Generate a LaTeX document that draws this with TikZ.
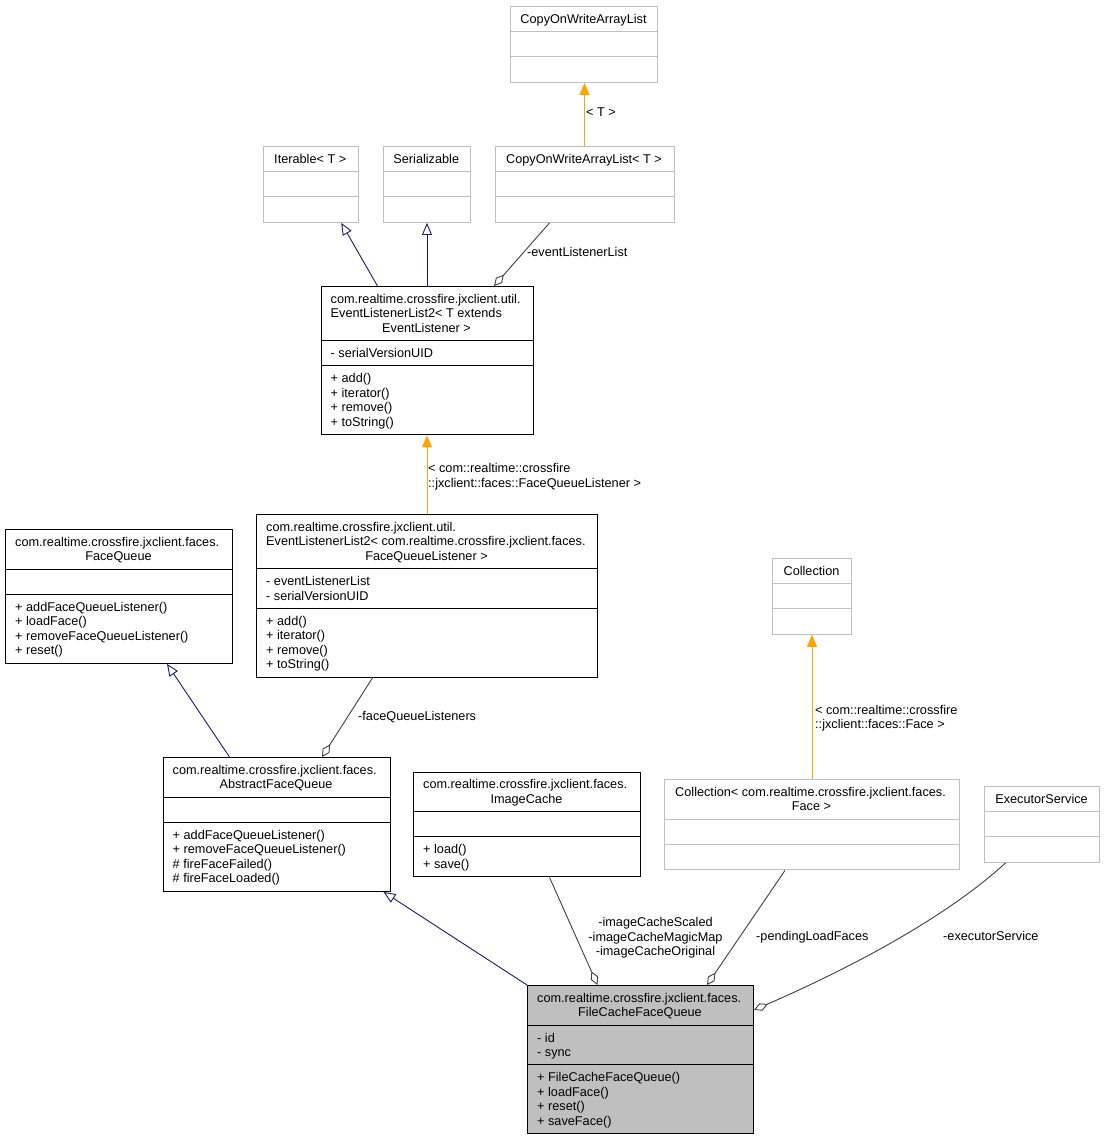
\documentclass[tikz,border=0pt]{standalone}
\usepackage{fontspec}
\setmainfont{Liberation Sans}
\usetikzlibrary{arrows.meta}
\definecolor{edgegray}{HTML}{404040}
\definecolor{boxgray}{HTML}{BFBFBF}
\definecolor{navyline}{HTML}{191970}
\definecolor{tmplorange}{HTML}{FFA500}

\tikzset{
	cls/.style={draw=black, fill=white, anchor=north west, line width=1pt},
	extcls/.style={draw=boxgray, fill=white, anchor=north west, line width=1pt},
	focuscls/.style={draw=black, fill=boxgray, anchor=north west, line width=1pt},
	ttl/.style={anchor=north, align=center},
	mbr/.style={anchor=north west, align=left},
	elbl/.style={anchor=base west},
	inherit/.style={draw=navyline, line width=0.9pt, -{Triangle[open, length=12pt, width=10pt, fill=white]}},
	tmpl/.style={draw=tmplorange, line width=0.9pt, -{Triangle[length=12pt, width=10pt]}},
	assoc/.style={draw=edgegray, line width=0.9pt, -{Diamond[open, length=15pt, width=8pt, fill=white]}}
}

\begin{document}
\begin{tikzpicture}[x=1pt, y=-1pt, every node/.style={font=\fontsize{12.7}{14.5}\selectfont, inner sep=0pt}]
	\path[fill=white, use as bounding box] (0,0) rectangle (1104,1140);

	% templates and interfaces
	\node[extcls, minimum width=147pt, minimum height=75.9pt] (cow) at (510,6) {};
	\draw[boxgray] (510,31.3) -- (657,31.3) (510,56.6) -- (657,56.6);
	\node[ttl] (cowT) at (583.5,13.8) {CopyOnWriteArrayList};

	\node[extcls, minimum width=94.5pt, minimum height=75.9pt] (iter) at (263,146) {};
	\draw[boxgray] (263,171.3) -- (357.5,171.3) (263,196.6) -- (357.5,196.6);
	\node[ttl] (iterT) at (310.25,153.8) {Iterable< T >};

	\node[extcls, minimum width=87.5pt, minimum height=75.9pt] (ser) at (382.5,146) {};
	\draw[boxgray] (382.5,171.3) -- (470,171.3) (382.5,196.6) -- (470,196.6);
	\node[ttl] (serT) at (426.25,153.8) {Serializable};

	\node[extcls, minimum width=179pt, minimum height=75.9pt] (cowt) at (494.5,146) {};
	\draw[boxgray] (494.5,171.3) -- (673.5,171.3) (494.5,196.6) -- (673.5,196.6);
	\node[ttl] (cowtT) at (584,153.8) {CopyOnWriteArrayList< T >};

	% event listener lists
	\node[cls, minimum width=212pt, minimum height=148.4pt] (ell) at (320.5,286) {};
	\draw (320.5,340.3) -- (532.5,340.3) (320.5,365.6) -- (532.5,365.6);
	\node[mbr] (ellT) at (330.5,293.8) {com.realtime.crossfire.jxclient.util.\\EventListenerList2< T extends};
	\node[ttl] (ellTb) at (426.5,322.8) {EventListener >};
	\node[mbr] (ellA) at (330.5,348.1) {- serialVersionUID};
	\node[mbr] (ellM) at (330.5,373.4) {+ add()\\+ iterator()\\+ remove()\\+ toString()};

	\node[cls, minimum width=341pt, minimum height=162.9pt] (elfql) at (256,514) {};
	\draw (256,568.3) -- (597,568.3) (256,608.1) -- (597,608.1);
	\node[mbr] (elfqlT) at (266,521.8) {com.realtime.crossfire.jxclient.util.\\EventListenerList2< com.realtime.crossfire.jxclient.faces.};
	\node[ttl] (elfqlTb) at (426.5,550.8) {FaceQueueListener >};
	\node[mbr] (elfqlA) at (266,576.1) {- eventListenerList\\- serialVersionUID};
	\node[mbr] (elfqlM) at (266,615.9) {+ add()\\+ iterator()\\+ remove()\\+ toString()};

	% face queues
	\node[cls, minimum width=227pt, minimum height=133.9pt] (fq) at (5,529) {};
	\draw (5,568.8) -- (232,568.8) (5,594.1) -- (232,594.1);
	\node[mbr] (fqT) at (15,536.8) {com.realtime.crossfire.jxclient.faces.};
	\node[ttl] (fqTb) at (118.5,551.3) {FaceQueue};
	\node[mbr] (fqM) at (15,601.9) {+ addFaceQueueListener()\\+ loadFace()\\+ removeFaceQueueListener()\\+ reset()};

	\node[cls, minimum width=227pt, minimum height=133.9pt] (afq) at (162.5,757) {};
	\draw (162.5,796.8) -- (389.5,796.8) (162.5,822.1) -- (389.5,822.1);
	\node[mbr] (afqT) at (172.5,764.8) {com.realtime.crossfire.jxclient.faces.};
	\node[ttl] (afqTb) at (276,779.3) {AbstractFaceQueue};
	\node[mbr] (afqM) at (172.5,829.9) {+ addFaceQueueListener()\\+ removeFaceQueueListener()\\\# fireFaceFailed()\\\# fireFaceLoaded()};

	\node[cls, minimum width=227pt, minimum height=104.9pt] (ic) at (413,771.5) {};
	\draw (413,811.3) -- (640,811.3) (413,836.6) -- (640,836.6);
	\node[mbr] (icT) at (423,779.3) {com.realtime.crossfire.jxclient.faces.};
	\node[ttl] (icTb) at (526.5,793.8) {ImageCache};
	\node[mbr] (icM) at (423,844.4) {+ load()\\+ save()};

	\node[extcls, minimum width=79pt, minimum height=75.9pt] (coll) at (772,558) {};
	\draw[boxgray] (772,583.3) -- (851,583.3) (772,608.6) -- (851,608.6);
	\node[ttl] (collT) at (811.5,565.8) {Collection};

	\node[extcls, minimum width=295pt, minimum height=90.4pt] (collf) at (664,779) {};
	\draw[boxgray] (664,818.8) -- (959,818.8) (664,844.1) -- (959,844.1);
	\node[mbr] (collfT) at (675,786.8) {Collection< com.realtime.crossfire.jxclient.faces.};
	\node[ttl] (collfTb) at (811.5,801.3) {Face >};

	\node[extcls, minimum width=115pt, minimum height=75.9pt] (exe) at (984,786) {};
	\draw[boxgray] (984,811.3) -- (1099,811.3) (984,836.6) -- (1099,836.6);
	\node[ttl] (exeT) at (1041.5,793.8) {ExecutorService};

	\node[focuscls, minimum width=226pt, minimum height=148.4pt] (fcfq) at (527,985) {};
	\draw (527,1024.8) -- (753,1024.8) (527,1064.6) -- (753,1064.6);
	\node[mbr] (fcfqT) at (537,992.8) {com.realtime.crossfire.jxclient.faces.};
	\node[ttl] (fcfqTb) at (640,1007.3) {FileCacheFaceQueue};
	\node[mbr] (fcfqA) at (537,1032.6) {- id\\- sync};
	\node[mbr] (fcfqM) at (537,1072.4) {+ FileCacheFaceQueue()\\+ loadFace()\\+ reset()\\+ saveFace()};

	% connectors
	\draw[tmpl] (cowt.north) -- (cowt.north |- cow.south);
	\node[elbl] at (586,116.6) {< T >};

	\draw[inherit] ([xshift=-49.5pt]ell.north) -- ([xshift=30.5pt]iter.south);
	\draw[inherit] (ell.north) -- (ell.north |- ser.south);
	\draw[assoc] ([xshift=-35pt]cowt.south) -- ([xshift=67pt]ell.north);
	\node[elbl] at (527,256.6) {-eventListenerList};

	\draw[tmpl] (elfql.north) -- (ell.south);
	\node[anchor=west, align=left] at (428,476.5) {< com::realtime::crossfire\\::jxclient::faces::FaceQueueListener >};

	\draw[inherit] ([xshift=-47pt]afq.north) -- ([xshift=48pt]fq.south);
	\draw[assoc] ([xshift=-54.5pt]elfql.south) -- ([xshift=45.5pt]afq.north);
	\node[elbl] at (358,720.6) {-faceQueueListeners};

	\draw[tmpl] (collf.north) -- (coll.south);
	\node[anchor=west, align=left] at (815,718) {< com::realtime::crossfire\\::jxclient::faces::Face >};

	\draw[inherit] (fcfq.north west) -- ([xshift=107pt]afq.south);
	\draw[assoc] ([xshift=22.5pt]ic.south) -- ([xshift=-43pt]fcfq.north);
	\node[align=center] at (655.5,937.8) {-imageCacheScaled\\-imageCacheMagicMap\\-imageCacheOriginal};
	\draw[assoc] ([xshift=-27pt]collf.south) -- ([xshift=66.5pt]fcfq.north);
	\node[elbl] at (756,940.6) {-pendingLoadFaces};
	\draw[assoc] ([xshift=-36.5pt]exe.south) .. controls (960,905) and (880,955) .. ([yshift=-25pt]fcfq.north east);
	\node[elbl] at (943,940.6) {-executorService};
\end{tikzpicture}
\end{document}
